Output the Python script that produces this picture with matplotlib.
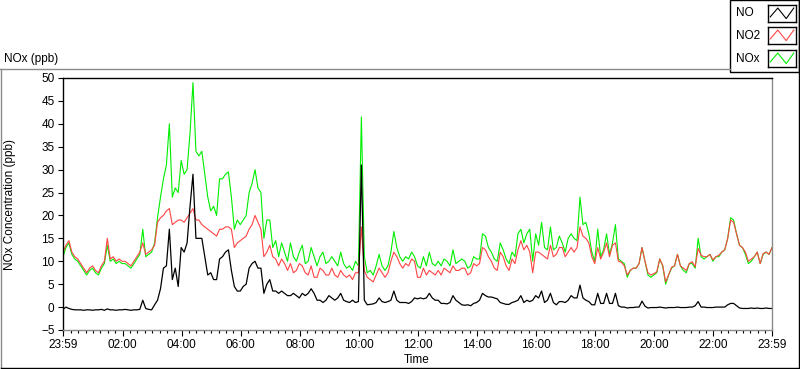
import numpy as np
import matplotlib
matplotlib.use('Agg')
import matplotlib.pyplot as plt
from matplotlib.patches import Rectangle
from matplotlib.lines import Line2D

plt.rcParams['font.family'] = ['Liberation Sans', 'DejaVu Sans']
plt.rcParams['font.size'] = 8.5

# hours elapsed since 23:59, one reading every 6 minutes
hours = np.arange(241) * 0.1

no = [-0.5, 0, -0.3, -0.5, -0.6, -0.6, -0.6, -0.7, -0.6, -0.6,
      -0.7, -0.6, -0.6, -0.5, -0.7, -0.4, -0.6, -0.6, -0.7, -0.6,
      -0.6, -0.5, -0.6, -0.7, -0.6, -0.6, -0.5, 1.5, -0.3, -0.5,
      -0.6, 0.5, 1.5, 4, 8.5, 9, 17, 6, 8.5, 4.5,
      13, 12, 14, 22, 29, 15, 15, 15, 11, 7,
      7.5, 6, 6, 10.5, 11, 12, 12.5, 8, 4.5, 3.5,
      3.5, 4.5, 5, 8.5, 9.5, 10, 8.5, 8.5, 3, 5,
      6, 3.5, 3.5, 3, 3.5, 3, 2.5, 2.5, 3, 2.5,
      2, 3, 2.5, 3, 4, 3, 1.5, 1.5, 1, 1.5,
      2.5, 2, 1.5, 2, 3, 1.5, 1.2, 1, 1.5, 1,
      1.2, 31, 1.5, 0.5, 0.6, 0.7, 1, 2, 1.2, 1,
      1.2, 1.5, 3.5, 1.5, 1, 1, 1, 0.8, 1.2, 2,
      1.8, 2, 1.8, 2, 3, 2, 1.5, 1.5, 0.8, 0.8,
      0.7, 1, 2.5, 1.5, 1, 0.5, 0.4, 0.5, 0.3, 0.8,
      1, 1.5, 3, 2.5, 2.2, 2.2, 2, 1.8, 1, 0.8,
      0.6, 0.6, 1, 1.2, 1.5, 2.5, 1, 1.5, 1.2, 1.5,
      2.5, 2, 3.5, 1, 1.5, 3, 1, 0.5, 1.2, 1.2,
      1, 1.5, 2.5, 2, 2, 4.8, 2, 1.5, 1.2,
      0.5, 0.5, 3, 0.8, 0.8, 3, 0.8, 0.8, 3, 0.3,
      0, 0, -0.2, -0.1, -0.1, 0, 0, 1.3, 0.2, -0.2,
      -0.1, -0.1, -0.1, 0, -0.1, -0.2, -0.1, -0.1, -0.1, 0,
      -0.1, -0.1, -0.1, 0, 0, 0.3, 1.2, 0, 0, -0.1,
      -0.1, -0.1, 0, 0, 0, 0, 0.5, 0.8, 0.8, 0.3,
      -0.2, -0.3, -0.3, -0.3, -0.2, -0.3, -0.2, -0.3, -0.3, -0.2,
      -0.3, -0.3]

no2 = [12, 13.5, 14.5, 12, 11, 10.5, 9.5, 8.5, 7.5, 8.5,
       9, 8, 7.5, 9, 10, 15, 10.5, 11, 10, 10.5,
       10, 10, 9.5, 9, 10, 11, 12, 14, 11.5, 12,
       12.5, 13.5, 18.5, 19.5, 20, 21, 21.5, 18, 18.5, 19,
       19, 18.5, 19.5, 20.5, 21.5, 19, 19, 18, 17.5, 17,
       16.5, 16, 15.5, 17, 17, 17.5, 17.5, 17, 13, 14,
       14.5, 15, 15.5, 17, 18, 20, 18.5, 17, 11, 12,
       13.5, 11, 10.5, 9, 10.5, 9.5, 8, 9.5, 7.5, 8,
       9.5, 9, 7.5, 7, 9, 6.5, 6.5, 8.5, 8, 7,
       7, 8.5, 7, 6.5, 8, 7, 6.5, 7, 6, 7.5,
       7.5, 17.5, 8, 6.5, 6, 5.5, 7, 8.5, 7.5, 6.5,
       7.5, 10, 12, 11, 9.5, 8.5, 9.5, 9, 10.5, 10,
       6.5, 6.5, 8.5, 7, 8, 7.5, 7, 8, 7, 8.5,
       8, 7.5, 9, 8, 8, 8.5, 8.5, 7, 7.5, 9.5,
       9, 9.5, 13, 12.5, 11, 10, 8.5, 8, 12, 11,
       9, 8, 10.5, 9.5, 12.5, 14.5, 12.5, 13.5, 12, 7.5,
       12, 12, 11.5, 11, 10.5, 13.5, 11, 11.5, 13, 13,
       11, 12, 13, 12, 13, 17.5, 15.5, 15, 14,
       11, 9.5, 13, 10.5, 12, 14, 11, 13.5, 14, 10,
       9.8, 9, 7, 8, 8.5, 8.5, 9.5, 13, 10, 7.5,
       7, 7.3, 7.7, 10.5, 9.1, 5.5, 7, 8.7, 9, 11.5,
       9, 8.5, 8, 9.5, 9.9, 8.8, 12.8, 11.3, 11, 11,
       11.5, 10.3, 11, 11.3, 12, 12.5, 15, 19, 18.5, 16,
       13.5, 13, 12, 10, 10.5, 11, 12, 9.5, 11.7, 12,
       11.5, 13]

nox = [11, 13, 14, 11.5, 10.5, 10, 9, 8, 7, 8,
       8.5, 7.5, 7, 8.5, 9.5, 13.5, 10, 10.5, 9.5, 10,
       9.5, 9.5, 9, 8.5, 9.5, 10.5, 11.5, 17, 11, 11.5,
       12, 14, 19.5, 24, 28, 31, 40, 24, 26, 25,
       32, 29, 30, 38, 49, 34, 33, 34, 29, 24,
       21, 22, 20, 28, 28, 29, 29.5, 24, 17, 19,
       18, 19, 20, 25, 27, 30, 26, 25, 15, 19,
       19, 13, 14.5, 11, 14, 12, 10, 14, 11, 10,
       12, 13.5, 9.5, 10, 13, 11, 9, 11, 12, 9.5,
       10, 11, 10, 9, 12, 9.5, 8.5, 9, 8, 10,
       9, 41.5, 11, 7.5, 8, 7, 9, 11.5, 9, 8,
       9, 12, 16.5, 13, 11, 10, 11, 10.5, 12, 11,
       9, 8.5, 11, 9, 12, 9.5, 9, 10, 9, 10.5,
       10, 9, 12.5, 9.5, 10, 10.5, 10, 8.5, 9, 11,
       10.5, 10.5, 16, 15.5, 13, 12, 10.5, 10, 14, 12.5,
       10.5, 9.5, 12, 11, 16, 17, 14, 16, 17, 10,
       16, 13.5, 18.5, 13, 12.5, 17.5, 12.5, 13, 15.5, 14,
       12, 15, 16, 15, 14.5, 24, 18, 18.5, 16,
       12, 10, 17, 11, 12.5, 16, 11.5, 14, 18, 10.5,
       10, 9.5, 6.5, 8, 8.5, 8.5, 9.5, 13, 10, 7,
       6.5, 7, 7.5, 10.5, 9, 5, 7, 8.5, 9, 11.5,
       9, 8, 7.5, 9.5, 9.5, 8.5, 15, 11, 10.5, 11,
       11.5, 10, 11, 11, 12, 12.5, 15, 19.5, 19, 16,
       13.5, 13, 11.5, 9.5, 10, 11, 12, 9.5, 11.5, 12,
       11.5, 13]

series_names = ['NO', 'NO2', 'NOx']
xtick_labels = ['23:59', '02:00', '04:00', '06:00', '08:00', '10:00', '12:00',
                '14:00', '16:00', '18:00', '20:00', '22:00', '23:59']
ytick_values = [-5, 0, 5, 10, 15, 20, 25, 30, 35, 40, 45, 50]

W, H = 800, 369
fig = plt.figure(figsize=(W / 100, H / 100), dpi=100)


def fx(px):
    return px / W


def fy(py):
    return 1 - py / H


# outer panel frame
fig.add_artist(Line2D([fx(0), fx(730)], [fy(68.5), fy(68.5)], color='#8a8a8a', lw=1))
fig.add_artist(Line2D([fx(1), fx(1)], [fy(68.5), fy(368)], color='#8a8a8a', lw=1))
fig.add_artist(Line2D([fx(1), fx(799)], [fy(367.5), fy(367.5)], color='black', lw=1))
fig.add_artist(Line2D([fx(798.5), fx(798.5)], [fy(0), fy(368)], color='black', lw=1))

ax = fig.add_axes([fx(63), fy(330), fx(709), 252 / H])
ax.plot(hours, nox, color='#00ee00', lw=0.8)
ax.plot(hours, no2, color='#ff4444', lw=0.8)
ax.plot(hours, no, color='black', lw=0.9)

ax.set_xlim(0, 24)
ax.set_ylim(-5, 50)
xpos = [0] + [h + 1 / 60 for h in range(2, 24, 2)] + [24]
ax.set_xticks(xpos)
ax.set_xticklabels(xtick_labels)
ax.set_xticks([1 / 60 + 0.25 * k for k in range(96)], minor=True)
ax.set_yticks(ytick_values)

ax.tick_params(axis='x', which='major', length=4.3, width=0.8, pad=2)
ax.tick_params(axis='x', which='minor', length=2.4, width=0.8)
ax.tick_params(axis='y', which='major', length=3.6, width=0.8, pad=2.5)
for side in ['left', 'top']:
    ax.spines[side].set_color('black')
    ax.spines[side].set_linewidth(1)
for side in ['right', 'bottom']:
    ax.spines[side].set_color('#8a8a8a')
    ax.spines[side].set_linewidth(1)

fig.text(fx(4), fy(59), 'NOx (ppb)', ha='left', va='center')
fig.text(fx(10), fy(205), 'NOx Concentration (ppb)', rotation=90, ha='center', va='center')
fig.text(fx(417), fy(360), 'Time', ha='center', va='center')

# legend box
fig.add_artist(Rectangle((fx(730), fy(72)), fx(69), 72 / H, facecolor='white',
                         edgecolor='black', lw=1, transform=fig.transFigure, zorder=-1))
colors = ['black', '#ff4444', '#00ee00']
text_y = [13, 36, 59]
icon_top = [5, 27, 50]
for name, c, ty, it in zip(series_names, colors, text_y, icon_top):
    fig.text(fx(736), fy(ty), name, ha='left', va='center')
    iax = fig.add_axes([fx(768), fy(it + 17), fx(28), 17 / H])
    iax.plot([0.08, 0.35, 0.65, 0.92], [0.3, 0.82, 0.2, 0.82], color=c, lw=0.8)
    iax.set_xlim(0, 1)
    iax.set_ylim(0, 1)
    iax.set_xticks([])
    iax.set_yticks([])
    for s in iax.spines.values():
        s.set_color('black')
        s.set_linewidth(1)

fig.savefig('out.png', dpi=100)
